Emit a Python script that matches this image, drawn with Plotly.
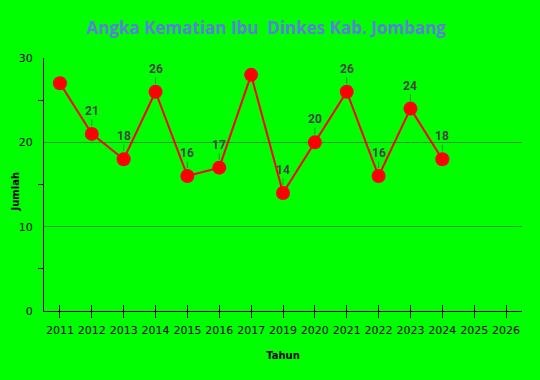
import plotly.graph_objects as go

years = ["2011", "2012", "2013", "2014", "2015", "2016", "2017", "2019",
         "2020", "2021", "2022", "2023", "2024", "2025", "2026"]
data_years = ["2011", "2012", "2013", "2014", "2015", "2016", "2017", "2019",
              "2020", "2021", "2022", "2023", "2024"]
values = [27, 21, 18, 26, 16, 17, 28, 14, 20, 26, 16, 24, 18]
labels = ["", "21", "18", "26", "16", "17", "", "14", "20", "26", "16", "24", "18"]

fig = go.Figure()
fig.add_trace(go.Scatter(
    x=data_years, y=values, mode="lines+markers",
    line=dict(color="#ff0000", width=2),
    marker=dict(color="#ff0000", size=14),
    hoverinfo="x+y", showlegend=False,
))
# dummy trace for second x axis (double-sided ticks)
fig.add_trace(go.Scatter(x=years, y=[None]*len(years), xaxis="x2",
                         showlegend=False, hoverinfo="skip"))

for xv, yv, t in zip(data_years, values, labels):
    if t:
        fig.add_annotation(
            x=years.index(xv), y=yv, xref="x", yref="y",
            text="<b>" + t + "</b>", showarrow=True,
            arrowhead=0, arrowwidth=1, arrowcolor="#1f9a1f",
            ax=0, ay=-23, standoff=8,
            font=dict(family="Roboto", size=12, color="#454545"),
        )

# y-axis title as annotation for precise placement
fig.add_annotation(
    text="<b>Jumlah</b>", textangle=-90, showarrow=False,
    xref="paper", yref="paper", x=0, y=0.5, xanchor="center", yanchor="middle",
    xshift=-29, yshift=-7,
    font=dict(family="DejaVu Sans", size=10, color="black"),
)

fig.update_layout(
    width=540, height=380,
    paper_bgcolor="#00ff00", plot_bgcolor="#00ff00",
    margin=dict(l=44, r=18, t=58, b=69),
    title=dict(text="<b>Angka Kematian Ibu  Dinkes Kab. Jombang</b>",
               x=0.493, xanchor="center", y=0.925, yanchor="middle",
               font=dict(family="Open Sans", size=17, color="#5b80dc")),
    xaxis=dict(type="category", categoryorder="array", categoryarray=years,
               range=[-0.5, 14.5], showgrid=False, showline=True,
               linecolor="black", linewidth=1, ticks="outside", ticklen=6,
               tickcolor="black", ticklabelstandoff=3, automargin=False,
               tickfont=dict(family="DejaVu Sans", size=11, color="black"),
               title=dict(text="<b>Tahun</b>", standoff=15,
                          font=dict(family="DejaVu Sans", size=10, color="black")),
               zeroline=False, fixedrange=True),
    xaxis2=dict(type="category", categoryorder="array", categoryarray=years,
                range=[-0.5, 14.5], overlaying="x", side="bottom", anchor="y",
                showgrid=False, showline=False, ticks="inside", ticklen=6,
                tickcolor="black", showticklabels=False, matches="x"),
    yaxis=dict(range=[0, 30], dtick=10, showgrid=True, gridcolor="#1f9a1f",
               gridwidth=1, showline=True, linecolor="black", linewidth=1,
               ticks="", zeroline=False, ticklabelstandoff=8, automargin=False,
               tickfont=dict(family="DejaVu Sans", size=11, color="black"),
               minor=dict(dtick=5, ticks="outside", ticklen=5, tickcolor="black",
                          showgrid=False),
               fixedrange=True),
)

fig.write_html("out.html", config={"displayModeBar": False},
               post_script="document.body.style.margin='0';")
